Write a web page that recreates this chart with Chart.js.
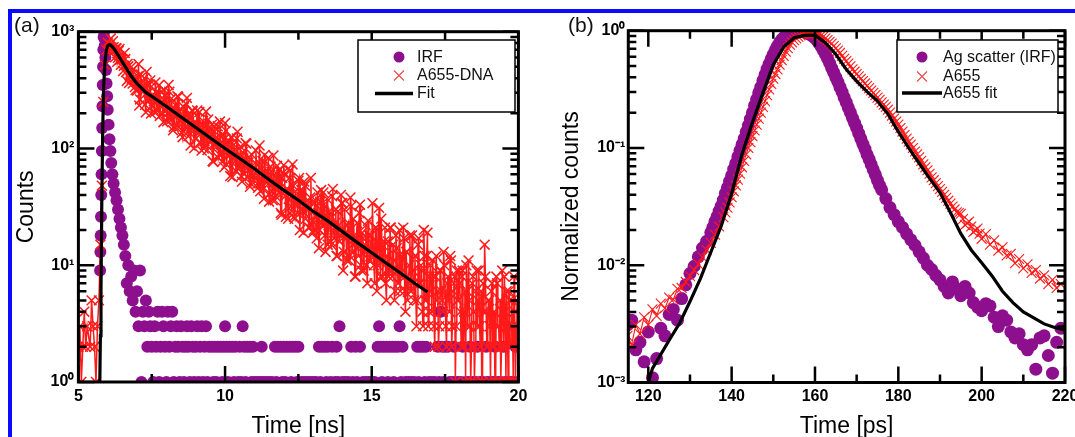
<!DOCTYPE html>
<html><head><meta charset="utf-8">
<script src="https://cdn.jsdelivr.net/npm/chart.js@4.4.1/dist/chart.umd.min.js"></script>
<style>
html,body{margin:0;padding:0;background:#fff;}
body{width:1075px;height:437px;overflow:hidden;position:relative;font-family:'Liberation Sans',Arial,sans-serif;}
canvas{position:absolute;top:0;}
#ca{left:0;} #cb{left:540px;}
.frameTop{position:absolute;left:8px;top:9px;width:1067px;height:4px;background:#0a0aff;}
.frameLeft{position:absolute;left:8px;top:9px;width:4px;height:428px;background:#0a0aff;}
.panel{position:absolute;font-size:21px;line-height:22px;color:#111;}
</style></head><body>
<div class="frameTop"></div><div class="frameLeft"></div>
<canvas id="ca" width="540" height="450"></canvas>
<canvas id="cb" width="560" height="450"></canvas>
<div class="panel" style="left:14px;top:14px">(a)</div>
<div class="panel" style="left:568px;top:14px">(b)</div>
<script>
// ---------- Panel (a): TCSPC histogram, channel calibration ----------
const aChannelStart = 5.0;   // ns, first channel
const aChannelWidth = 0.05;  // ns per channel
// A655-DNA counts per channel (5.00 ns ... 20.00 ns)
const a655CountsA = [
 2,3,1,2,4,2,3,0,2,5,3,2,1,3,5,15,48,250,520,700,
 803,714,873,725,738,603,718,598,712,520,581,511,583,379,505,413,499,360,392,316,
 313,528,263,361,305,399,204,348,264,383,231,279,204,302,210,349,231,254,168,287,
 273,202,306,176,216,153,236,158,277,177,196,125,225,151,271,127,182,153,209,101,
 121,212,135,150,96,172,115,207,97,140,117,160,77,139,103,155,89,110,77,119,
 165,73,108,89,125,57,108,78,122,67,84,58,93,60,111,68,76,47,89,58,
 59,96,50,64,43,72,45,88,52,59,35,70,43,87,36,55,45,65,28,56,
 72,39,45,25,56,32,73,26,43,34,53,20,44,29,52,25,33,21,38,22,
 19,34,26,42,14,35,22,42,18,25,15,29,16,39,19,23,12,29,16,40,
 34,13,19,11,23,12,32,15,18,8,23,12,33,9,17,13,22,7,18,11,
 12,15,7,21,10,31,8,15,11,21,5,16,9,21,8,11,6,14,7,20,
 12,9,17,4,13,7,18,6,9,5,12,5,17,7,9,3,12,5,19,4,
 10,4,8,2,12,6,3,9,5,13,6,2,8,4,11,3,7,1,9,5,
 7,2,9,4,1,6,11,3,2,8,1,6,3,9,2,1,7,15,4,2,
 5,1,7,2,1,8,3,2,1,9,2,4,6,1,5,2,3,8,1,5,
 3
];
// interleaved half channels (6.025 ns ... 19.975 ns)
const aHalfChannelStart = 6.025;
const a655CountsHalfA = [
 687,779,702,828,683,721,552,683,578,583,461,658,451,530,363,439,392,478,336,397,
 416,233,430,309,344,237,453,255,353,199,288,253,367,212,293,190,251,200,317,211,
 171,350,187,268,143,216,186,280,153,219,136,186,145,241,154,199,106,211,149,170,
 158,136,205,112,161,100,136,106,177,113,146,78,155,109,125,83,170,91,130,69,
 142,87,116,58,124,85,98,64,139,70,104,52,82,70,110,57,84,50,71,54,
 62,73,46,106,51,78,37,61,51,83,41,63,36,52,39,71,42,57,27,62,
 60,26,45,37,65,29,48,25,38,28,56,30,44,19,48,30,36,21,56,24,
 20,36,17,28,20,44,22,33,13,37,22,27,15,45,17,30,12,22,18,34,
 9,30,17,22,11,38,13,25,8,17,14,28,10,19,9,15,10,24,11,18,
 34,10,21,6,15,11,25,8,16,7,12,8,21,9,15,5,18,9,12,6,
 8,21,6,13,5,10,6,18,7,12,3,15,7,10,4,20,5,12,3,8,
 6,11,3,8,5,2,9,6,4,10,3,7,5,12,2,6,8,3,5,9,
 4,8,2,6,10,3,5,1,7,4,2,9,5,3,6,1,4,8,2,5,
 3,6,2,4,1,7,3,5,2,4,8,1,3,6,2,5,1,4,3,2
];
// IRF counts per channel (0 = empty channel, not shown on log axis)
const irfCountsA = [
 0,0,0,0,0,0,0,0,0,0,0,0,0,0,0,0,0,0,0,0,
 0,0,0,0,0,0,0,0,0,0,0,0,12,7,10,6,8,5,9,4,
 6,3,9,1,4,3,5,2,4,3,2,1,3,2,4,1,2,4,3,2,
 1,4,2,3,4,1,2,3,2,1,3,2,1,2,3,2,1,3,2,1,
 2,3,1,2,3,1,2,3,1,2,0,2,1,2,1,2,0,2,1,2,
 3,2,1,2,0,2,1,2,0,1,2,1,3,2,1,2,0,2,1,2,
 1,0,1,0,1,2,1,0,1,0,1,0,1,0,2,1,2,0,2,1,
 2,1,2,0,2,1,2,0,2,1,2,0,1,0,1,0,1,0,1,0,
 1,0,1,0,2,1,2,0,2,1,2,0,1,2,0,1,2,1,3,0,
 1,0,1,0,1,0,2,1,0,2,1,0,2,0,1,0,1,0,1,0,
 1,0,1,0,2,3,2,1,2,0,2,1,2,0,2,1,2,0,2,3,
 1,2,0,1,0,1,0,1,0,1,0,2,1,2,0,2,1,2,0,1,
 0,1,0,1,0,2,1,4,2,1,2,0,2,1,0,1,2,1,0,1,
 0,1,2,0,1,0,1,2,0,1,0,1,2,0,1,0,1,0,2,1,
 0,1,0,1,2,0,1,0,1,0,2,1,0,1,0,1,0,1,2,0,
 1
];
// IRF peak, finer sampling
const irfPeakTimeA  = [5.74,5.75,5.76,5.77,5.78,5.79,5.80,5.81,5.82,5.83,5.84,5.85,5.86,5.87,5.88,5.89,5.90,5.92,5.94,5.96,5.98,6.00,6.03,6.06,6.09,6.12,6.16,6.20,6.25,6.30,6.35,6.40,6.45,6.50,6.55];
const irfPeakCountA = [9,13,18,26,40,60,95,150,230,350,500,700,900,1050,1000,880,760,600,470,360,280,215,160,120,95,75,60,50,42,36,30,25,21,18,15];
// Fit curve
const fitTimeA  = [5.73,5.75,5.77,5.80,5.83,5.86,5.90,5.95,6.00,6.05,6.10,6.20,6.30,6.45,6.60,6.80,7.00,7.30,7.60,8.00,8.50,9.00,9.50,10.0,10.5,11.0,11.5,12.0,12.5,13.0,13.5,14.0,14.5,15.0,15.5,16.0,16.5,16.9];
const fitCountA = [1,2.5,6,40,150,330,530,690,760,776,767,724,661,575,501,417,359,302,269,229,186,151,123,100,82,67,54,44,36,29,24,19.4,15.7,12.8,10.4,8.5,6.9,5.9];
const aXTickValues = [5,10,15,20];
const aXTickLabels = ['5','10','15','20'];
const aXMinorTicks = [7.5,12.5,17.5];
const aYTickValues = [1,10,100,1000];
const aYTickLabels = ['10\u2070','10\u00b9','10\u00b2','10\u00b3'];
const aLegendLabels = ['IRF','A655-DNA','Fit'];

// ---------- Panel (b) ----------
const bChannelStart = 115;    // ps
const bChannelWidth = 1;      // ps per channel
const irfNormB = [
 0.0031,0.0034,0.0019,0.0022,0.0015,0.0027,0.0011,0.0016,0.0029,0.0025,
 0.0038,0.0042,0.0034,0.0052,0.0068,0.0085,0.0098,0.0118,0.014,0.016,
 0.019,0.0235,0.029,0.036,0.046,0.058,0.074,0.095,0.12,0.155,
 0.2,0.26,0.33,0.42,0.52,0.63,0.74,0.84,0.91,0.96,
 0.99,1.0,0.99,0.96,0.92,0.87,0.78,0.68,0.58,0.48,
 0.4,0.33,0.27,0.22,0.18,0.148,0.12,0.098,0.08,0.065,
 0.053,0.044,0.037,0.031,0.027,0.0235,0.021,0.0185,0.0165,0.0148,
 0.013,0.0115,0.01,0.0092,0.0082,0.0075,0.0066,0.0058,0.0072,0.0063,
 0.0055,0.0066,0.0058,0.0048,0.0044,0.0041,0.0047,0.0045,0.0036,0.003,
 0.0037,0.0034,0.0027,0.0024,0.0026,0.0021,0.0019,0.0021,0.0013,0.0024,
 0.0025,0.0017,0.0012,0.0022,0.0029
];
// interleaved half-ps channels across the IRF peak (135.5 ... 175.5 ps)
const irfHalfStartB = 135.5;
const irfNormHalfB = [
 0.021,0.026,0.032,0.041,0.052,0.066,0.084,0.107,0.137,0.176,
 0.23,0.295,0.375,0.47,0.575,0.685,0.79,0.875,0.935,0.975,
 0.995,0.995,0.975,0.94,0.895,0.825,0.73,0.63,0.53,0.44,
 0.365,0.3,0.245,0.2,0.163,0.133,0.108,0.088,0.072,0.059,
 0.048
];
const a655NormB = [
 0.0025,0.0021,0.0031,0.0026,0.0036,0.0031,0.0042,0.0037,0.0047,0.0043,
 0.0053,0.0051,0.0063,0.0064,0.0072,0.0081,0.0091,0.0102,0.0117,0.0135,
 0.0155,0.0182,0.0214,0.0257,0.0309,0.038,0.0479,0.0603,0.0776,0.1,
 0.126,0.158,0.2,0.251,0.316,0.389,0.468,0.562,0.661,0.759,
 0.832,0.891,0.933,0.955,0.966,0.955,0.933,0.891,0.832,0.776,
 0.708,0.646,0.575,0.525,0.468,0.427,0.389,0.355,0.324,0.295,
 0.269,0.245,0.224,0.2,0.178,0.158,0.138,0.12,0.107,0.0933,
 0.0832,0.0724,0.0646,0.0562,0.0501,0.0447,0.0398,0.0355,0.0316,0.0282,
 0.0275,0.0221,0.0236,0.0192,0.0205,0.0168,0.0184,0.015,0.0163,0.0133,
 0.0142,0.0121,0.0125,0.0104,0.0113,0.0094,0.0102,0.0086,0.0091,0.0077,
 0.0082,0.0069,0.0075,0.0064,0.0069
];
// interleaved half-ps channels (138.5 ... 199.5 ps)
const a655HalfStartB = 138.5;
const a655NormHalfB = [
 0.0282,0.0343,0.0427,0.0537,0.0684,0.0881,0.112,0.141,0.178,0.224,
 0.282,0.351,0.427,0.513,0.61,0.708,0.795,0.861,0.912,0.944,
 0.96,0.96,0.944,0.912,0.861,0.804,0.741,0.676,0.61,0.55,
 0.496,0.447,0.408,0.372,0.339,0.309,0.282,0.257,0.234,0.212,
 0.189,0.168,0.148,0.129,0.113,0.0999,0.0881,0.0776,0.0684,0.0603,
 0.0531,0.0473,0.0422,0.0376,0.0335,0.0299,0.0279,0.0247,0.0228,0.0214,
 0.0198,0.0186
];
const fitTimeB = [120,121,122.5,125,127.5,130,132.5,135,137.5,140,142.5,145,147.5,150,152.5,155,157.5,160,162.5,165,167.5,170,172.5,175,177.5,180,182.5,185,187.5,190,192.5,195,197.5,200,202.5,205,207.5,210,212.5,215,217.5,220];
const fitNormB = [0.001,0.00132,0.00162,0.00229,0.0032,0.0049,0.0077,0.0129,0.0216,0.0407,0.089,0.166,0.295,0.513,0.724,0.871,0.912,0.916,0.79,0.63,0.468,0.372,0.302,0.251,0.195,0.138,0.1,0.0741,0.055,0.0417,0.0282,0.0186,0.0135,0.0105,0.0081,0.006,0.0048,0.004,0.00355,0.00316,0.00295,0.0028];
const bXTickValues = [120,140,160,180,200,220];
const bXTickLabels = ['120','140','160','180','200','220'];
const bXMinorTicks = [130,150,170,190,210];
const bYTickValues = [0.001,0.01,0.1,1];
const bYTickLabels = ['10\u207b\u00b3','10\u207b\u00b2','10\u207b\u00b9','10\u2070'];
const bLegendLabels = ['Ag scatter (IRF)','A655','A655 fit'];

const logMinorSteps = [2,3,4,5,6,7,8,9];

// ---------- helpers ----------
Chart.defaults.font.family = "'Liberation Sans', Arial, Helvetica, sans-serif";
Chart.defaults.color = '#000';
const PURPLE = '#8e0f8e', RED = '#ff1a1a';

function channelPoints(start, width, values) {
  const pts = [];
  values.forEach((v, i) => { if (v > 0) pts.push({x: start + i * width, y: v}); });
  return pts;
}
function pairPoints(xs, ys) { return xs.map((x, i) => ({x: x, y: ys[i]})); }
function byTime(pts) { return pts.sort((p, q) => p.x - q.x); }

const frameTicks = {
  id: 'frameTicks',
  afterDatasetsDraw(chart, args, o) {
    const ctx = chart.ctx, a = chart.chartArea;
    const xs = chart.scales.x, ys = chart.scales.y;
    ctx.save();
    ctx.strokeStyle = '#000';
    ctx.lineWidth = o.tickWidth;
    ctx.beginPath();
    const vx = (v, len) => { const p = xs.getPixelForValue(v);
      ctx.moveTo(p, a.bottom); ctx.lineTo(p, a.bottom - len);
      ctx.moveTo(p, a.top); ctx.lineTo(p, a.top + len); };
    const hy = (v, len) => { const p = ys.getPixelForValue(v);
      ctx.moveTo(a.left, p); ctx.lineTo(a.left + len, p);
      ctx.moveTo(a.right, p); ctx.lineTo(a.right - len, p); };
    o.xMajor.forEach(v => vx(v, o.major));
    o.xMinor.forEach(v => vx(v, o.minor));
    o.yMajor.forEach(v => hy(v, o.major));
    for (let k = 0; k < o.yMajor.length - 1; k++) logMinorSteps.forEach(m => hy(o.yMajor[k] * m, o.minor));
    ctx.stroke();
    ctx.lineWidth = o.frameWidth;
    ctx.strokeRect(a.left, a.top, a.right - a.left, a.bottom - a.top);
    ctx.restore();
  }
};

const boxLegend = {
  id: 'boxLegend',
  afterDraw(chart, args, o) {
    const ctx = chart.ctx;
    ctx.save();
    const [x0, y0, x1, y1] = o.box;
    ctx.fillStyle = '#fff'; ctx.fillRect(x0, y0, x1 - x0, y1 - y0);
    ctx.strokeStyle = '#000'; ctx.lineWidth = 1.5; ctx.strokeRect(x0, y0, x1 - x0, y1 - y0);
    o.entries.forEach((e, i) => {
      const ds = chart.data.datasets[e.dataset];
      const y = o.rows[i];
      if (e.kind === 'circle') {
        ctx.fillStyle = ds.pointBackgroundColor; ctx.beginPath();
        ctx.arc(o.markerX, y, 5.5, 0, Math.PI * 2); ctx.fill();
      } else if (e.kind === 'cross') {
        ctx.strokeStyle = '#f04848'; ctx.lineWidth = 1.1; const d = 5;
        ctx.beginPath();
        ctx.moveTo(o.markerX - d, y - d); ctx.lineTo(o.markerX + d, y + d);
        ctx.moveTo(o.markerX - d, y + d); ctx.lineTo(o.markerX + d, y - d);
        ctx.stroke();
      } else {
        ctx.strokeStyle = ds.borderColor; ctx.lineWidth = 3.5; ctx.beginPath();
        ctx.moveTo(o.lineFrom, y); ctx.lineTo(o.lineTo, y); ctx.stroke();
      }
      ctx.fillStyle = '#111'; ctx.font = "16px 'Liberation Sans', Arial, sans-serif";
      ctx.textBaseline = 'middle'; ctx.textAlign = 'left';
      ctx.fillText(ds.label, o.textX, y + 0.5);
    });
    ctx.restore();
  }
};

function makeChart(id, cfg) {
  return new Chart(document.getElementById(id), {
    type: 'scatter',
    data: { datasets: [
      { label: cfg.labels[2], data: cfg.fit, showLine: true, borderColor: '#000', borderWidth: 3.2,
        pointRadius: 0, tension: 0, order: 0, clip: 0 },
      { label: cfg.labels[1], data: cfg.a655, showLine: true, borderColor: RED, borderWidth: cfg.redLine,
        pointStyle: 'crossRot', pointRadius: 7, pointBorderColor: RED, pointBorderWidth: cfg.redCross,
        pointBackgroundColor: 'rgba(0,0,0,0)', order: 1, clip: 0 },
      { label: cfg.labels[0], data: cfg.irf, showLine: false, pointStyle: 'circle', pointRadius: cfg.dotR,
        pointBackgroundColor: PURPLE, pointBorderWidth: 0, order: 2, clip: 0 }
    ]},
    options: {
      responsive: false, animation: false, devicePixelRatio: 1, events: [],
      layout: { padding: cfg.padding },
      plugins: { legend: { display: false }, tooltip: { enabled: false },
        frameTicks: { xMajor: cfg.xTicks, xMinor: cfg.xMinor, yMajor: cfg.yTicks, major: 16, minor: 8, tickWidth: 2.5, frameWidth: 3 },
        boxLegend: cfg.legend },
      scales: {
        x: { type: 'linear', position: 'bottom', min: cfg.xMin, max: cfg.xMax,
          afterBuildTicks: s => { s.ticks = cfg.xTicks.map(v => ({value: v})); },
          afterFit: s => { s.height = cfg.xHeight; },
          grid: { display: false, drawTicks: false }, border: { display: false },
          ticks: { font: { size: 16, weight: 'bold' }, color: '#000', padding: 4.5, maxRotation: 0, minRotation: 0, autoSkip: false,
            callback: (v, i) => cfg.xLabels[i] },
          title: { display: true, text: cfg.xTitle, font: { size: 23 }, color: '#000', padding: { top: 0, bottom: 10 } } },
        y: { type: 'logarithmic', position: 'left', min: cfg.yMin, max: cfg.yMax,
          afterBuildTicks: s => { s.ticks = cfg.yTicks.map(v => ({value: v})); },
          afterFit: s => { s.width = cfg.yWidth; },
          grid: { display: false, drawTicks: false }, border: { display: false },
          ticks: { font: { size: 16, weight: 'bold' }, color: '#000', padding: cfg.yPad, autoSkip: false,
            callback: (v, i) => cfg.yLabels[i] },
          title: { display: true, text: cfg.yTitle, font: { size: 23 }, color: '#000', padding: { top: cfg.yTitlePad, bottom: 0 } } }
      }
    },
    plugins: [frameTicks, boxLegend]
  });
}

makeChart('ca', {
  labels: aLegendLabels,
  fit: pairPoints(fitTimeA, fitCountA),
  a655: byTime(channelPoints(aChannelStart, aChannelWidth, a655CountsA).concat(channelPoints(aHalfChannelStart, aChannelWidth, a655CountsHalfA))),
  irf: pairPoints(irfPeakTimeA, irfPeakCountA).concat(channelPoints(aChannelStart, aChannelWidth, irfCountsA)),
  dotR: 6, redLine: 1.5, redCross: 1.5,
  padding: { left: 0, top: 31.7, right: 21.6, bottom: 0 },
  xMin: 5, xMax: 20, xTicks: aXTickValues, xLabels: aXTickLabels, xMinor: aXMinorTicks, xHeight: 68,
  yMin: 1, yMax: 1000, yTicks: aYTickValues, yLabels: aYTickLabels, yWidth: 78.4, yPad: 4,
  xTitle: 'Time [ns]', yTitle: 'Counts', yTitlePad: 13,
  legend: { box: [358, 40, 515, 112], rows: [57, 75.5, 93.5], markerX: 399, textX: 417, lineFrom: 375, lineTo: 413,
    entries: [{dataset: 2, kind: 'circle'}, {dataset: 1, kind: 'cross'}, {dataset: 0, kind: 'line'}] }
});

makeChart('cb', {
  labels: bLegendLabels,
  fit: pairPoints(fitTimeB, fitNormB),
  a655: byTime(channelPoints(bChannelStart, bChannelWidth, a655NormB).concat(channelPoints(a655HalfStartB, bChannelWidth, a655NormHalfB))),
  irf: byTime(channelPoints(bChannelStart, bChannelWidth, irfNormB).concat(channelPoints(irfHalfStartB, bChannelWidth, irfNormHalfB))),
  dotR: 6.5, redLine: 1.1, redCross: 1.1,
  padding: { left: 0, top: 30.7, right: 35, bottom: 0 },
  xMin: 115.2, xMax: 220, xTicks: bXTickValues, xLabels: bXTickLabels, xMinor: bXMinorTicks, xHeight: 67.5,
  yMin: 0.001, yMax: 1, yTicks: bYTickValues, yLabels: bYTickLabels, yWidth: 88.3, yPad: 3,
  xTitle: 'Time [ps]', yTitle: 'Normalized counts', yTitlePad: 18,
  legend: { box: [357, 40, 518, 112], rows: [57, 76.5, 93], markerX: 382, textX: 403, lineFrom: 362, lineTo: 402,
    entries: [{dataset: 2, kind: 'circle'}, {dataset: 1, kind: 'cross'}, {dataset: 0, kind: 'line'}] }
});
</script>
</body></html>
